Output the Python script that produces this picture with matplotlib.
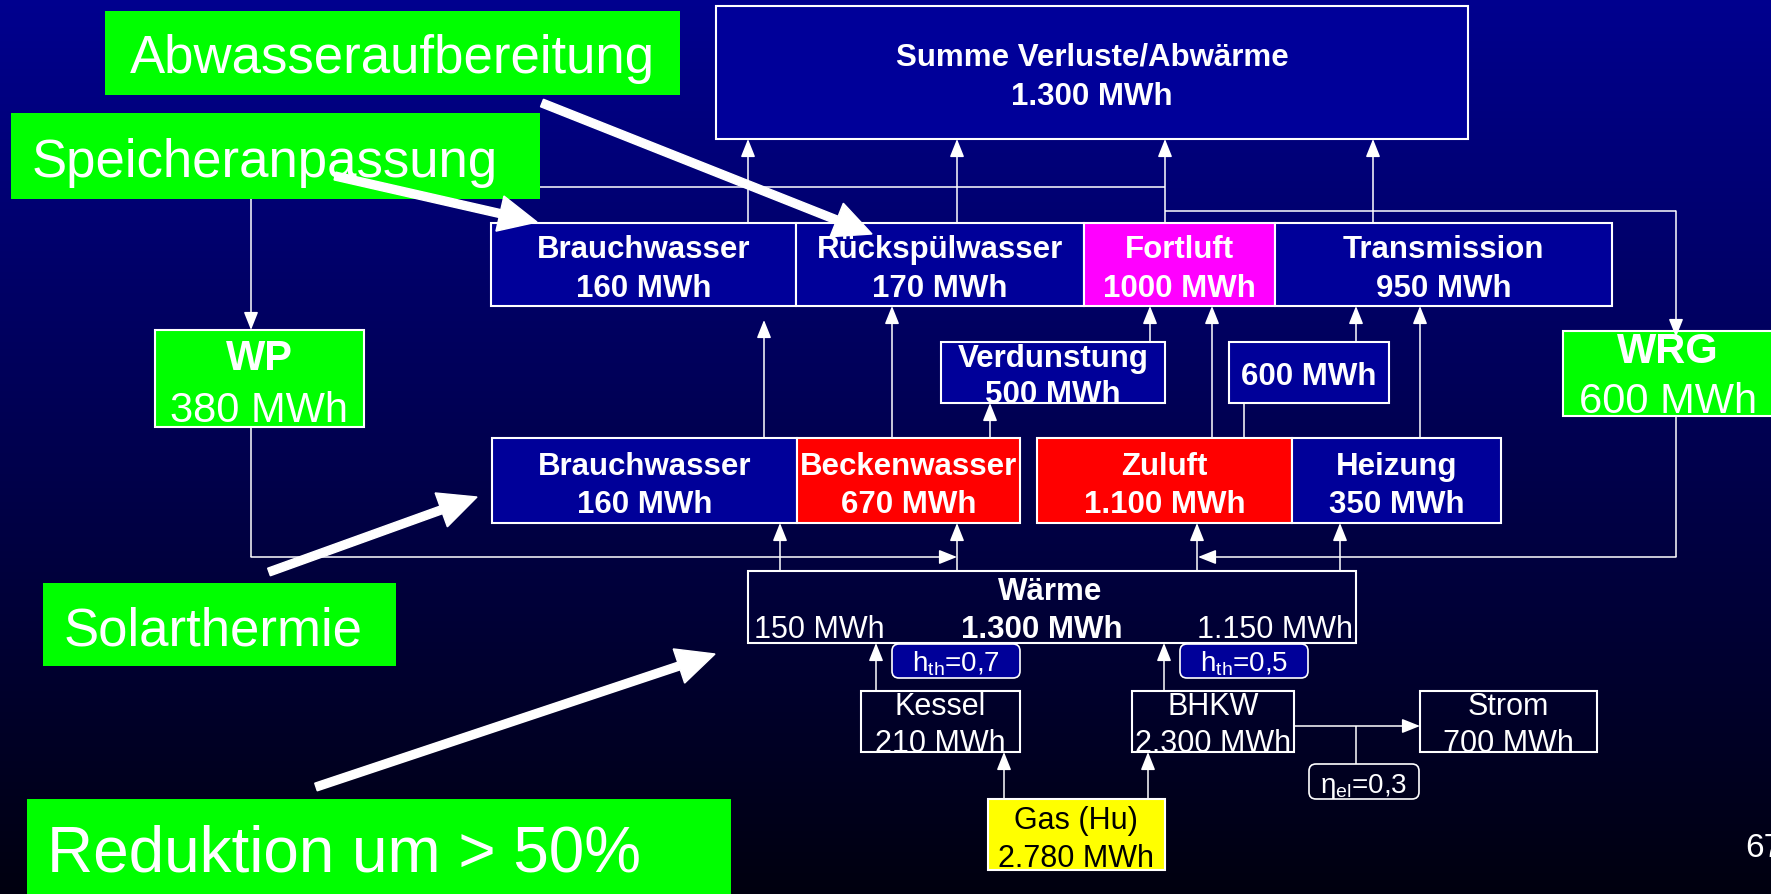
import numpy as np
import matplotlib
matplotlib.use("Agg")
import matplotlib.pyplot as plt
from matplotlib.patches import Rectangle, FancyBboxPatch, FancyArrowPatch, FancyArrow

plt.rcParams['font.family'] = ['Liberation Sans', 'DejaVu Sans']
plt.rcParams['mathtext.fontset'] = 'custom'
plt.rcParams['mathtext.rm'] = 'Liberation Sans'
plt.rcParams['mathtext.it'] = 'Liberation Sans'
plt.rcParams['mathtext.default'] = 'regular'

# ---- data ----
summe_label = "Summe Verluste/Abwärme"
summe_value = "1.300 MWh"
loss_labels = ["Brauchwasser", "Rückspülwasser", "Fortluft", "Transmission"]
loss_values = ["160 MWh", "170 MWh", "1000 MWh", "950 MWh"]
use_labels = ["Brauchwasser", "Beckenwasser", "Zuluft", "Heizung"]
use_values = ["160 MWh", "670 MWh", "1.100 MWh", "350 MWh"]
verd_label, verd_value = "Verdunstung", "500 MWh"
wrg_loss_value = "600 MWh"
waerme_label = "Wärme"
waerme_values = ["150 MWh", "1.300 MWh", "1.150 MWh"]
gen_labels = ["Kessel", "BHKW", "Strom"]
gen_values = ["210 MWh", "2.300 MWh", "700 MWh"]
gas_label, gas_value = "Gas (Hu)", "2.780 MWh"
eff_texts = [r"h$_{th}$=0,7", r"h$_{th}$=0,5", r"$\eta_{el}$=0,3"]
wp_label, wp_value = "WP", "380 MWh"
wrg_label, wrg_value = "WRG", "600 MWh"
measures = ["Abwasseraufbereitung", "Speicheranpassung", "Solarthermie", "Reduktion um > 50%"]
page_no = "67"

# ---- layout (pixels, y down) ----
W, H = 1771, 895
NAVY = '#000099'
GREEN = '#00FF00'
loss_edges = [491, 796, 1084, 1275, 1612]
loss_y = (224, 307)
loss_colors = [NAVY, NAVY, '#FF00FF', NAVY]
use_edges = [[492, 797, 1020], [1037, 1292, 1501]]
use_y = (439, 524)
use_colors = [NAVY, '#FF0000', '#FF0000', NAVY]

fig = plt.figure(figsize=(W / 100, H / 100), dpi=100)
ax = fig.add_axes([0, 0, 1, 1])
ax.set_xlim(0, W)
ax.set_ylim(H, 0)
ax.axis('off')

# background gradient
grad = np.linspace(0, 1, 256)[:, None]
top = np.array([0, 0, 0.56])
bot = np.array([0, 0, 0.06])
img = top[None, None, :] * (1 - grad[:, :, None]) + bot[None, None, :] * grad[:, :, None]
ax.imshow(img, extent=[0, W, H, 0], aspect='auto', zorder=0)


def box(x0, y0, x1, y1, fc='none', ec='white', lw=1.5, z=3):
    ax.add_patch(Rectangle((x0, y0), x1 - x0, y1 - y0, facecolor=fc,
                           edgecolor=ec, linewidth=lw, zorder=z))


def txt(x, y, s, size=22.5, bold=True, color='white', ha='center', z=6):
    ax.text(x, y, s, fontsize=size, fontweight='bold' if bold else 'normal',
            color=color, ha=ha, va='baseline', zorder=z)


def line(xs, ys, z=2):
    ax.plot(xs, ys, color='white', lw=1.1, zorder=z, solid_capstyle='butt')


def arrow(x0, y0, x1, y1, z=2):
    ax.add_patch(FancyArrowPatch((x0, y0), (x1, y1),
                                 arrowstyle='-|>,head_length=0.55,head_width=0.22',
                                 mutation_scale=20, color='white', lw=1.1,
                                 shrinkA=0, shrinkB=0, zorder=z))


def fat_arrow(x0, y0, x1, y1):
    ax.add_patch(FancyArrow(x0, y0, x1 - x0, y1 - y0, width=8, head_width=36,
                            head_length=38, length_includes_head=True,
                            color='white', zorder=12))


# Summe box
box(716, 7, 1468, 140, fc=NAVY)
txt(1092, 65, summe_label)
txt(1092, 105, summe_value)

# loss row
for i in range(4):
    box(loss_edges[i], loss_y[0], loss_edges[i + 1], loss_y[1], fc=loss_colors[i])
    cx = (loss_edges[i] + loss_edges[i + 1]) / 2
    txt(cx, 258, loss_labels[i])
    txt(cx, 297, loss_values[i])

# use row
k = 0
for grp in use_edges:
    for i in range(len(grp) - 1):
        box(grp[i], use_y[0], grp[i + 1], use_y[1], fc=use_colors[k])
        cx = (grp[i] + grp[i + 1]) / 2
        txt(cx, 475, use_labels[k])
        txt(cx, 513, use_values[k])
        k += 1

# Verdunstung and 600 MWh
box(941, 343, 1165, 404, fc=NAVY)
txt(1053, 367, verd_label)
txt(1053, 403, verd_value, z=7)
box(1229, 343, 1389, 404, fc=NAVY)
txt(1309, 385, wrg_loss_value)

# Waerme box
box(748, 572, 1356, 644)
txt(1050, 600, waerme_label)
txt(754, 638, waerme_values[0], size=22, bold=False, ha='left')
txt(1042, 638, waerme_values[1])
txt(1353, 638, waerme_values[2], size=22, bold=False, ha='right')

# generators
gen_x = [(861, 1020), (1132, 1294), (1420, 1597)]
for (x0, x1), lab, val in zip(gen_x, gen_labels, gen_values):
    box(x0, 692, x1, 753)
    txt((x0 + x1) / 2, 715, lab, size=22, bold=False)
    txt((x0 + x1) / 2, 752, val, size=22, bold=False)

# gas
box(988, 800, 1165, 871, fc='#FFFF00')
txt(1076, 829, gas_label, size=22, bold=False, color='black')
txt(1076, 867, gas_value, size=22, bold=False, color='black')

# efficiencies
eff_boxes = [(892, 645, 1020, 679, NAVY), (1180, 645, 1308, 679, NAVY),
             (1309, 765, 1419, 800, 'none')]
for (x0, y0, x1, y1, fc), s in zip(eff_boxes, eff_texts):
    ax.add_patch(FancyBboxPatch((x0 + 4, y0 + 4), x1 - x0 - 8, y1 - y0 - 8,
                                boxstyle='round,pad=4,rounding_size=7',
                                facecolor=fc, edgecolor='white', lw=1.2, zorder=4))
    txt((x0 + x1) / 2, y1 - 7, s, size=20, bold=False)

# WP / WRG
box(155, 331, 364, 428, fc=GREEN, z=5)
txt(259, 370, wp_label, size=30)
txt(259, 422, wp_value, size=30, bold=False)
box(1563, 332, 1790, 417, fc=GREEN, z=5)
txt(1668, 363, wrg_label, size=30)
txt(1668, 413, wrg_value, size=30, bold=False)

# green measure boxes
box(105, 12, 680, 96, fc=GREEN, ec='none', z=8)
txt(392, 73, measures[0], size=38, bold=False, z=9)
box(11, 114, 540, 200, fc=GREEN, ec='none', z=8)
txt(32, 177, measures[1], size=38, bold=False, ha='left', z=9)
box(43, 584, 396, 667, fc=GREEN, ec='none', z=8)
txt(64, 645, measures[2], size=38, bold=False, ha='left', z=9)
box(27, 800, 731, 900, fc=GREEN, ec='none', z=8)
txt(47, 872, measures[3], size=46, bold=False, ha='left', z=9)

# connectors
line([251, 1165], [188, 188])
arrow(251, 188, 251, 331)
line([1165, 1676], [212, 212])
arrow(1676, 212, 1676, 338, z=6)
line([1676, 1676], [417, 558])
arrow(1676, 558, 1198, 558)
line([251, 251], [428, 558])
arrow(251, 558, 957, 558)
line([1244, 1244], [404, 439])
line([1356, 1356], [727, 765])

for x in [748, 957, 1165, 1373]:
    arrow(x, 224, x, 140)
arrow(764, 439, 764, 321)
arrow(892, 439, 892, 307)
arrow(990, 439, 990, 404)
arrow(1150, 343, 1150, 307)
arrow(1212, 439, 1212, 307)
arrow(1356, 343, 1356, 307)
arrow(1420, 439, 1420, 307)
for x in [780, 957, 1197, 1340]:
    arrow(x, 572, x, 524)
arrow(876, 692, 876, 644)
arrow(1164, 692, 1164, 644)
arrow(1004, 800, 1004, 753)
arrow(1148, 800, 1148, 753)
arrow(1294, 727, 1420, 727)

# fat pointer arrows
fat_arrow(542, 104, 872, 235)
fat_arrow(335, 177, 537, 223)
fat_arrow(269, 573, 477, 498)
fat_arrow(316, 788, 715, 655)

# page number
txt(1745, 857, page_no, size=24, bold=False)
ax.texts[-1].set_ha('left')

fig.savefig('out.png', dpi=100)
